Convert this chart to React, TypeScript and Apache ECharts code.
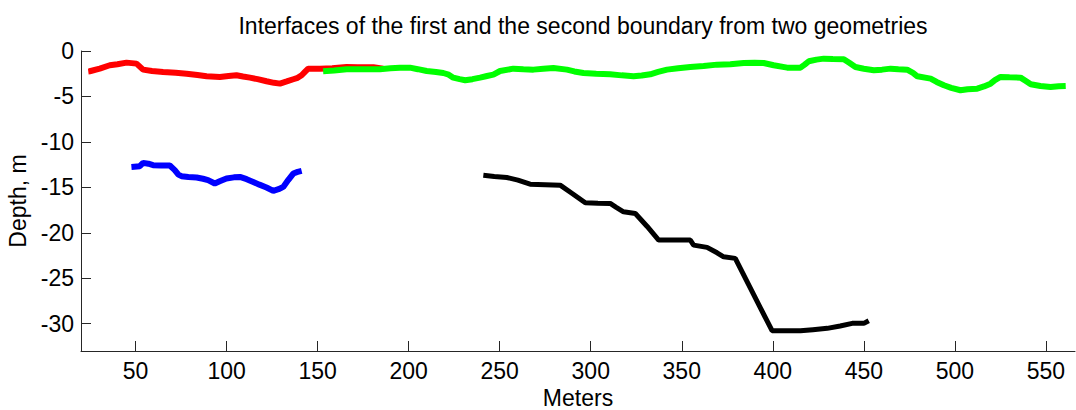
import React, { useEffect, useRef } from "react";
import * as echarts from "echarts";

const title = "Interfaces of the first and the second boundary from two geometries";
const xTicks = [50, 100, 150, 200, 250, 300, 350, 400, 450, 500, 550];
const yTicks = [-30, -25, -20, -15, -10, -5, 0];

const redLine: [number, number][] = [
  [24.0, -2.25], [24.8, -2.23], [30.3, -1.94], [35.8, -1.57], [40, -1.45], [45, -1.28], [50.5, -1.39],
  [54.1, -2.05], [59, -2.2], [65.1, -2.3], [72, -2.4], [78, -2.5], [84, -2.65], [89, -2.78],
  [96.3, -2.85], [101, -2.75], [105.4, -2.67], [109, -2.8], [112.8, -2.93], [117, -3.1],
  [121.9, -3.33], [126, -3.5], [129.3, -3.59], [133, -3.35], [136.6, -3.11], [139, -2.95],
  [141.2, -2.67], [143, -2.3], [144.8, -1.94], [151.3, -1.94], [158, -1.9], [165.9, -1.76],
  [172, -1.8], [180.6, -1.79], [186, -1.95],
];

const greenLine: [number, number][] = [
  [153, -2.23], [159, -2.15], [165.9, -2.0], [175, -2.0], [184.2, -2.0], [190, -1.9], [195.2, -1.83],
  [200.7, -1.83], [205, -2.0], [209.9, -2.2], [215, -2.3], [219, -2.42], [222, -2.6], [224.5, -2.93],
  [228, -3.1], [231, -3.22], [235, -3.1], [239.2, -2.93], [243, -2.75], [246.5, -2.6], [250.2, -2.2],
  [257.5, -1.94], [263, -2.0], [268.5, -2.05], [274, -1.95], [279.5, -1.87], [286.9, -2.05],
  [291, -2.25], [296, -2.42], [303, -2.5], [310.7, -2.56], [317, -2.68], [323.5, -2.78],
  [328, -2.7], [332.7, -2.56], [337, -2.3], [341.9, -2.05], [348, -1.9], [354.7, -1.76],
  [362, -1.65], [369.4, -1.5], [376.7, -1.46], [384, -1.32], [390, -1.3], [395, -1.32],
  [400.5, -1.57], [407.9, -1.83], [415.2, -1.83], [417.5, -1.5], [419.8, -1.13], [424, -0.95],
  [428, -0.84], [433, -0.88], [439, -0.91], [442, -1.3], [445.4, -1.76], [450, -1.95],
  [455.5, -2.12], [460, -2.05], [464.7, -1.94], [469, -2.0], [473.8, -2.05], [477, -2.4],
  [479.4, -2.78], [486.7, -3.04], [490, -3.4], [494, -3.77], [498, -4.05], [503.1, -4.32],
  [507, -4.2], [512.3, -4.14], [516, -3.9], [519.6, -3.59], [522, -3.2], [525.1, -2.85],
  [530, -2.9], [536.1, -2.93], [539, -3.3], [541.7, -3.66], [547, -3.85], [552.6, -3.96],
  [557, -3.88], [560.9, -3.85],
];

const blueLine: [number, number][] = [
  [47.7, -12.75], [52.3, -12.67], [54.1, -12.31], [57, -12.4], [59.6, -12.56], [64, -12.6],
  [68.8, -12.6], [71.5, -13.1], [73.5, -13.6], [75.2, -13.77], [79, -13.85], [83.5, -13.91],
  [87, -14.05], [89.8, -14.2], [93.5, -14.57], [96.5, -14.3], [99.9, -14.02], [104, -13.9],
  [107.3, -13.85], [111, -14.1], [114.6, -14.4], [118, -14.7], [121.9, -15.01], [125.6, -15.38],
  [128.5, -15.2], [131.1, -14.95], [133.8, -14.2], [136.6, -13.48], [139, -13.3], [141.2, -13.19],
];

const blackLine: [number, number][] = [
  [241, -13.66], [247, -13.8], [253.9, -13.91], [260, -14.2], [266.7, -14.65], [275, -14.7],
  [283.2, -14.76], [290, -15.7], [297, -16.7], [304, -16.75], [310.7, -16.77], [314, -17.2],
  [318, -17.69], [324.5, -17.87], [331, -19.3], [337.3, -20.8], [346, -20.8], [354.7, -20.8],
  [356.5, -21.35], [363.9, -21.6], [369.4, -22.2], [373, -22.64], [379.4, -22.81],
  [389.5, -26.8], [399.6, -30.77], [407, -30.77], [415.2, -30.77], [422, -30.65],
  [429.9, -30.51], [437, -30.25], [443.6, -29.96], [450, -29.96], [452.7, -29.67],
];

const FONT = "'Liberation Sans', Arial, sans-serif";
const FS = 23;

export default function App() {
  const ref = useRef<HTMLDivElement>(null);
  useEffect(() => {
    if (!ref.current) return;
    const chart = echarts.init(ref.current, null, { renderer: "svg" });
    const axisColor = "#262626";
    const mk = (name: string, data: [number, number][], color: string, width: number) => ({
      name,
      type: "line",
      data,
      showSymbol: false,
      symbol: "none",
      lineStyle: { color, width },
      z: 2,
    });
    chart.setOption({
      animation: false,
      backgroundColor: "#ffffff",
      title: {
        text: title,
        left: 578,
        top: 9,
        textAlign: "center",
        textStyle: { fontFamily: FONT, fontSize: FS, fontWeight: "normal", color: "#000" },
      },
      grid: { left: 81, right: 1, top: 51, bottom: 59, containLabel: false, outerBoundsMode: "none" },
      xAxis: {
        type: "value",
        min: 20,
        max: 566,
        name: "Meters",
        nameLocation: "middle",
        nameGap: 35,
        nameTextStyle: { fontFamily: FONT, fontSize: FS, color: "#000" },
        axisLine: { show: true, onZero: false, lineStyle: { color: axisColor, width: 1 } },
        axisTick: { show: true, inside: true, length: 10, customValues: xTicks, lineStyle: { color: axisColor } },
        axisLabel: { customValues: xTicks, fontFamily: FONT, fontSize: FS, color: "#000", margin: 8 },
        splitLine: { show: false },
      },
      yAxis: {
        type: "value",
        min: -33,
        max: 0,
        name: "Depth, m",
        nameLocation: "middle",
        nameGap: 51,
        nameTextStyle: { fontFamily: FONT, fontSize: FS, color: "#000" },
        axisLine: { show: true, onZero: false, lineStyle: { color: axisColor, width: 1 } },
        axisTick: { show: true, inside: true, length: 10, customValues: yTicks, lineStyle: { color: axisColor } },
        axisLabel: { customValues: yTicks, fontFamily: FONT, fontSize: FS, color: "#000", margin: 7 },
        splitLine: { show: false },
      },
      series: [
        mk("red", redLine, "#ff0000", 6),
        mk("green", greenLine, "#00ff00", 6),
        mk("blue", blueLine, "#0000ff", 6),
        mk("black", blackLine, "#000000", 5),
      ],
    });
    return () => chart.dispose();
  }, []);
  return (
    <div
      ref={ref}
      style={{ position: "fixed", left: 0, top: 0, width: 1076, height: 410, background: "#fff" }}
    />
  );
}
